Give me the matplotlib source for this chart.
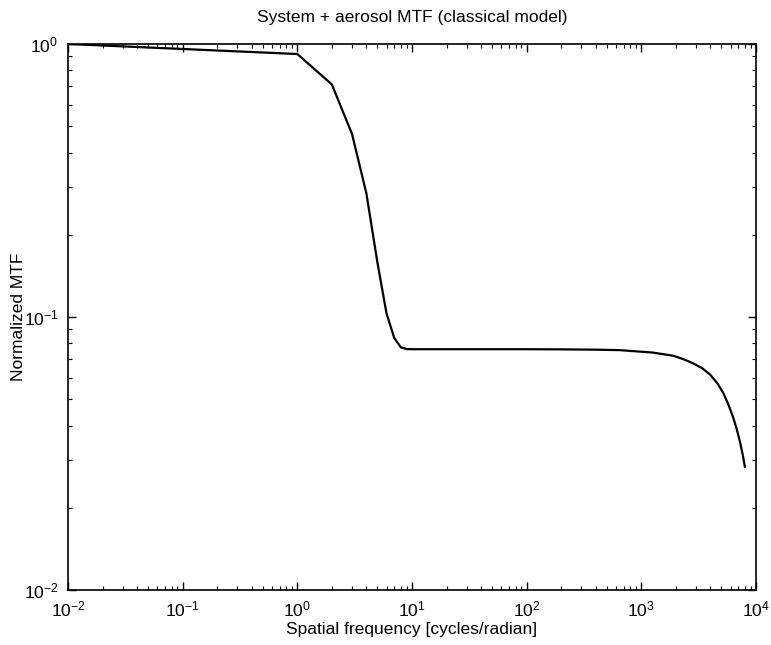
import numpy as np
import matplotlib
matplotlib.use("Agg")
import matplotlib.pyplot as plt
from matplotlib.ticker import LogLocator

# data
freq = [0.01, 1, 2, 3, 4, 5, 6, 7, 8, 9, 10, 20, 50, 100, 200, 400,
        650, 1250, 1900, 2300, 2800, 3400, 4000, 4600, 5200, 5700, 6300,
        6800, 7300, 7700, 8000]
mtf = [1.0, 0.919, 0.711, 0.468, 0.284, 0.158, 0.103, 0.0838, 0.0774, 0.0763,
       0.0762, 0.0762, 0.0762, 0.0762, 0.0761, 0.0759,
       0.0756, 0.0741, 0.0721, 0.0702, 0.0678, 0.0649, 0.0614, 0.0572, 0.0526,
       0.0482, 0.0431, 0.0388, 0.0345, 0.0310, 0.0283]

title = "System + aerosol MTF (classical model)"
xlabel = "Spatial frequency [cycles/radian]"
ylabel = "Normalized MTF"

plt.rcParams['font.family'] = ['Liberation Sans', 'DejaVu Sans']
plt.rcParams['mathtext.default'] = 'regular'

fig = plt.figure(figsize=(7.71, 6.45), dpi=100)
ax = fig.add_axes([0.0882, 0.0853, 0.8923, 0.8465])

ax.loglog(freq, mtf, color='black', linewidth=1.6)

ax.set_xlim(1e-2, 1e4)
ax.set_ylim(1e-2, 1e0)
ax.xaxis.set_major_locator(LogLocator(base=10, numticks=10))
ax.yaxis.set_major_locator(LogLocator(base=10, numticks=10))
ax.xaxis.set_minor_locator(LogLocator(base=10, subs=np.arange(2, 10), numticks=20))
ax.yaxis.set_minor_locator(LogLocator(base=10, subs=np.arange(2, 10), numticks=20))

ax.tick_params(which='both', direction='in', top=True, right=True, labelsize=12.5)
ax.tick_params(which='major', length=6, width=1)
ax.tick_params(which='minor', length=3, width=0.8)
ax.tick_params(axis='x', which='major', pad=7)
ax.tick_params(axis='y', which='major', pad=7)
for s in ax.spines.values():
    s.set_linewidth(1.2)

ax.set_title(title, fontsize=12.5, pad=16)
ax.set_xlabel(xlabel, fontsize=12.5, labelpad=2)
ax.set_ylabel(ylabel, fontsize=12.5)
ax.yaxis.set_label_coords(-0.061, 0.5)

fig.savefig("out.png", dpi=100)
